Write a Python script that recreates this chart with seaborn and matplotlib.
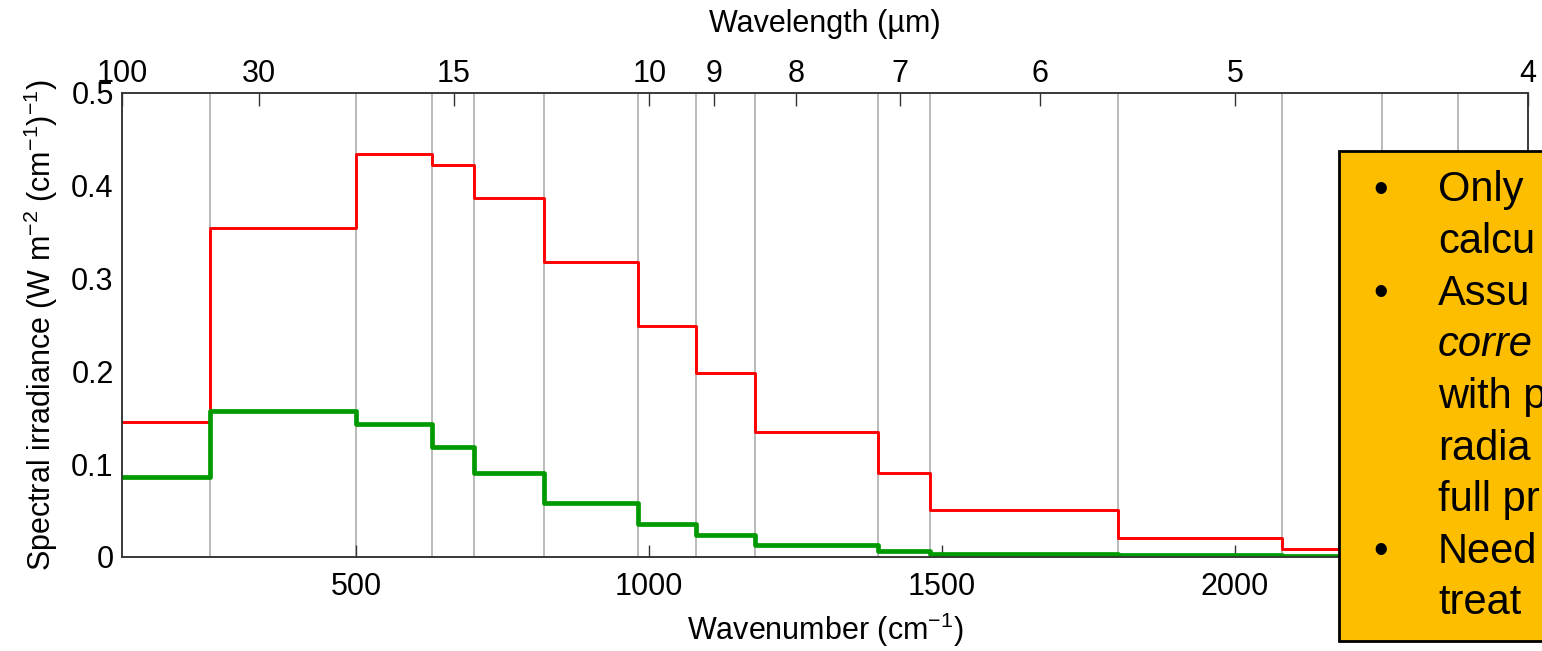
import numpy as np
import pandas as pd
import matplotlib
matplotlib.use("Agg")
import matplotlib.pyplot as plt
from matplotlib.patches import Rectangle
import seaborn as sns

# ---------------- data ----------------
band_edges = [10, 250, 500, 630, 700, 820, 980, 1080, 1180, 1390, 1480, 1800, 2080, 2250, 2380, 2600]
irradiance_red = [0.146, 0.354, 0.434, 0.422, 0.387, 0.318, 0.249, 0.198, 0.135, 0.090, 0.051, 0.020, 0.009]
irradiance_green = [0.086, 0.157, 0.143, 0.118, 0.091, 0.058, 0.036, 0.024, 0.013, 0.007, 0.0035, 0.002, 0.0015]
wavelength_ticks = [100, 30, 15, 10, 9, 8, 7, 6, 5, 4]
x_ticks = [500, 1000, 1500, 2000]
y_ticks = [0, 0.1, 0.2, 0.3, 0.4, 0.5]
y_ticklabels = ["0", "0.1", "0.2", "0.3", "0.4", "0.5"]
box_lines = ["Only", "calcu", "Assu", "corre", "with p", "radia", "full pr", "Need", "treat"]
box_bullets = [0, 2, 7]
box_italic = [3]

# ---------------- style ----------------
sns.set_style("white")
plt.rcParams["font.family"] = ["Liberation Sans", "DejaVu Sans"]
plt.rcParams["mathtext.fontset"] = "custom"
plt.rcParams["mathtext.rm"] = "Liberation Sans"
plt.rcParams["mathtext.it"] = "Liberation Sans:italic"
plt.rcParams["mathtext.bf"] = "Liberation Sans:bold"
plt.rcParams["text.color"] = "black"
plt.rcParams["axes.labelcolor"] = "black"

FS = 22
fig = plt.figure(figsize=(15.42, 6.51), dpi=100)
ax = fig.add_axes([122 / 1542, 1 - 557 / 651, (1528 - 122) / 1542, (557 - 93) / 651])

n = len(irradiance_red)
xs = band_edges[: n + 1]
df_red = pd.DataFrame({"x": xs, "y": irradiance_red + [irradiance_red[-1]]})
df_green = pd.DataFrame({"x": xs, "y": irradiance_green + [irradiance_green[-1]]})

# band-edge grid lines
for e in band_edges[1:]:
    ax.axvline(e, color="#b4b4b4", lw=1.3, zorder=0.5)

sns.lineplot(data=df_red, x="x", y="y", ax=ax, color="#ff0000", lw=2.1,
             drawstyle="steps-post", legend=False, zorder=2)
sns.lineplot(data=df_green, x="x", y="y", ax=ax, color="#009a00", lw=3.4,
             drawstyle="steps-post", legend=False, zorder=3)

ax.set_xlim(100, 2500)
ax.set_ylim(0, 0.5)
ax.set_xticks(x_ticks)
ax.set_xticklabels([str(t) for t in x_ticks])
ax.set_yticks(y_ticks)
ax.set_yticklabels(y_ticklabels)
ax.tick_params(direction="in", length=9, width=1.0, color="#333333",
               labelsize=FS, labelcolor="black")
ax.tick_params(axis="x", pad=11)
ax.tick_params(axis="y", pad=6)
ax.set_xlabel("Wavenumber (cm$^{-1}$)", fontsize=FS, labelpad=6, color="black")
ax.set_ylabel("Spectral irradiance (W m$^{-2}$ (cm$^{-1}$)$^{-1}$)", fontsize=FS,
              labelpad=8, color="black")
for s in ax.spines.values():
    s.set_color("#333333")
    s.set_linewidth(1.1)

ax2 = ax.twiny()
ax2.set_xlim(ax.get_xlim())
ax2.set_xticks([1e4 / w for w in wavelength_ticks])
ax2.set_xticklabels([str(w) for w in wavelength_ticks])
ax2.tick_params(direction="in", length=9, width=1.0, color="#333333",
                labelsize=FS, labelcolor="black", pad=3)
ax2.set_xlabel("Wavelength (µm)", fontsize=FS, labelpad=19, color="black")
for s in ax2.spines.values():
    s.set_color("#333333")
    s.set_linewidth(1.1)

# ---------------- overlay box ----------------
bx0 = 1339 / 1542
by0 = 1 - 641 / 651
by1 = 1 - 151 / 651
fig.add_artist(Rectangle((bx0, by0), 0.3, by1 - by0, transform=fig.transFigure,
                         facecolor="#fdbe00", edgecolor="black", lw=2.0,
                         zorder=10, clip_on=False))
baseline0 = 201.5
step = 51.6
for i, line in enumerate(box_lines):
    yb = 1 - (baseline0 + i * step) / 651
    if i in box_bullets:
        fig.text(1381 / 1542, yb, "•", fontsize=30, ha="center", va="baseline",
                 color="black", zorder=11)
    fig.text(1438 / 1542, yb, line, fontsize=30, ha="left", va="baseline",
             color="black", style="italic" if i in box_italic else "normal", zorder=11)

fig.savefig("out.png", dpi=100)
